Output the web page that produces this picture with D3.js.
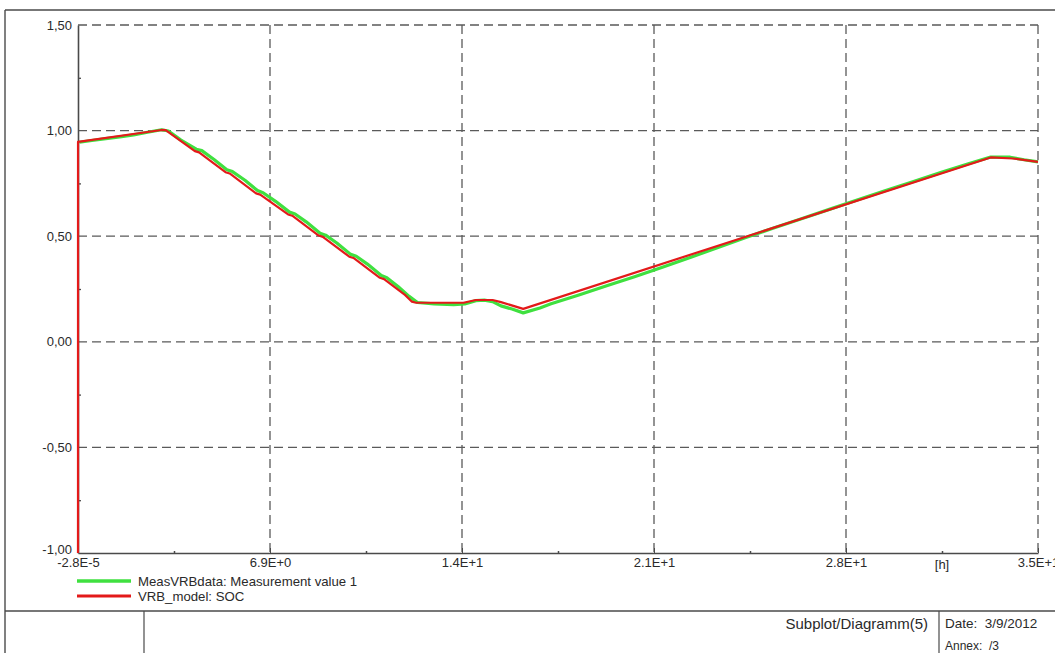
<!DOCTYPE html>
<html>
<head>
<meta charset="utf-8">
<script src="https://cdn.jsdelivr.net/npm/d3@7"></script>
<style>
  html, body { margin: 0; padding: 0; background: #fff; }
  svg { display: block; font-family: "Liberation Sans", Arial, sans-serif; }
</style>
</head>
<body>
<svg id="chart" width="1055" height="653"></svg>
<script>
// Measured state of charge (time in hours)
const measTime = [0.05, 0.5, 1.0, 1.5, 2.0, 2.5, 3.0, 3.25, 3.7, 4.25, 4.45, 4.9, 5.35, 5.55, 6.0, 6.45, 6.65,
  7.1, 7.6, 7.8, 8.2, 8.7, 8.9, 9.3, 9.8, 10.0, 10.4, 10.9, 11.1, 11.5, 11.9, 12.2, 12.8, 13.5, 13.9,
  14.3, 14.6, 14.9, 15.2, 15.6, 16.0, 16.6, 17.0, 18.0, 19.0, 20.0, 21.0, 22.0, 23.0, 24.0, 25.0, 26.0,
  27.0, 28.0, 29.0, 30.0, 31.0, 32.0, 32.8, 33.5, 34.0, 34.5];
const measSoc = [0.945, 0.953, 0.962, 0.970, 0.980, 0.992, 1.004, 0.998, 0.955, 0.912, 0.905, 0.862, 0.815, 0.806, 0.765, 0.716, 0.706,
  0.665, 0.614, 0.605, 0.568, 0.514, 0.505, 0.468, 0.414, 0.405, 0.368, 0.314, 0.303, 0.262, 0.215, 0.186, 0.180, 0.176, 0.179,
  0.195, 0.197, 0.190, 0.170, 0.155, 0.137, 0.160, 0.180, 0.222, 0.265, 0.308, 0.353, 0.399, 0.447, 0.494, 0.539, 0.583,
  0.627, 0.671, 0.715, 0.758, 0.801, 0.843, 0.875, 0.874, 0.862, 0.852];

// Model state of charge (time in hours)
const modelTime = [0, 0.001, 3.0, 3.15, 4.2, 4.35, 5.3, 5.45, 6.4, 6.55, 7.55, 7.7, 8.65, 8.8, 9.75, 9.9,
  10.85, 11.0, 11.75, 12.0, 12.15, 13.85, 14.3, 14.9, 15.2, 16.0, 32.8, 33.6, 34.5];
const modelSoc = [-1.0, 0.947, 1.003, 1.002, 0.903, 0.897, 0.803, 0.797, 0.703, 0.697, 0.603, 0.597, 0.503, 0.497, 0.403, 0.397,
  0.303, 0.297, 0.222, 0.190, 0.185, 0.185, 0.198, 0.198, 0.188, 0.156, 0.873, 0.868, 0.852];

const seriesNames = ["MeasVRBdata: Measurement value 1", "VRB_model: SOC"];
const xTickValues = [-2.8e-5, 6.9, 13.8, 20.7, 27.6, 34.5];
const xMinorValues = [3.45, 10.35, 17.25, 24.15, 31.05];
const xUnitLabel = "[h]";
const yTickValues = [-1.0, -0.5, 0.0, 0.5, 1.0, 1.5];
const yMinorValues = [-0.75, -0.25, 0.25, 0.75, 1.25];
const footerTitle = "Subplot/Diagramm(5)";
const footerDate = "Date:  3/9/2012";
const footerAnnex = "Annex:  /3";

// ---- styling and geometry ----
const colors = { meas: "#3fe03f", model: "#e31a1a", frame: "#4a4a4a", grid: "#5a5a5a", text: "#2a2a2a" };
const plot = { left: 78, right: 1038, top: 25, bottom: 553 };
const tickFont = 13;

const svg = d3.select("#chart");

const x = d3.scaleLinear().domain([xTickValues[0], xTickValues[xTickValues.length - 1]]).range([plot.left, plot.right]);
const y = d3.scaleLinear().domain([-1.0, 1.5]).range([plot.bottom, plot.top]);

const locale = d3.formatLocale({ decimal: ",", thousands: ".", grouping: [3], currency: ["", ""], minus: "-" });
const yFmt = locale.format(".2f");
const xFmt = v => v.toExponential(1).toUpperCase();

// outer frame and footer table
const frame = svg.append("g").attr("stroke", colors.frame).attr("fill", "none");
frame.append("line").attr("x1", 5).attr("x2", 1055).attr("y1", 10).attr("y2", 10).attr("stroke-width", 1.6);
frame.append("line").attr("x1", 5).attr("x2", 5).attr("y1", 10).attr("y2", 653).attr("stroke-width", 1.4);
frame.append("line").attr("x1", 5).attr("x2", 1055).attr("y1", 611).attr("y2", 611).attr("stroke-width", 1.4);
frame.append("line").attr("x1", 144).attr("x2", 144).attr("y1", 611).attr("y2", 653).attr("stroke-width", 1.2);
frame.append("line").attr("x1", 939).attr("x2", 939).attr("y1", 611).attr("y2", 653).attr("stroke-width", 1.2);

svg.append("text").attr("x", 928).attr("y", 629).attr("text-anchor", "end")
  .attr("font-size", 15).attr("fill", colors.text).text(footerTitle);
svg.append("text").attr("x", 945).attr("y", 628).attr("font-size", 13.5).attr("fill", colors.text)
  .attr("xml:space", "preserve").text(footerDate);
svg.append("text").attr("x", 945).attr("y", 650).attr("font-size", 12).attr("fill", colors.text)
  .attr("xml:space", "preserve").text(footerAnnex);

// dashed grid
const grid = svg.append("g").attr("stroke", colors.grid).attr("stroke-width", 1.3).attr("stroke-dasharray", "9,5");
grid.selectAll(".gx").data(xTickValues.slice(1)).join("line")
  .attr("x1", d => x(d)).attr("x2", d => x(d)).attr("y1", plot.top).attr("y2", plot.bottom);
grid.selectAll(".gy").data(yTickValues.slice(1)).join("line")
  .attr("x1", plot.left).attr("x2", plot.right).attr("y1", d => y(d)).attr("y2", d => y(d));

// axes
const xAxis = d3.axisBottom(x).tickValues(xTickValues).tickFormat(xFmt).tickSizeInner(-5).tickSizeOuter(0).tickPadding(5);
const gx = svg.append("g").attr("transform", `translate(0,${plot.bottom})`).call(xAxis);
gx.select(".domain").attr("stroke", colors.frame).attr("stroke-width", 1.6);
gx.selectAll(".tick line").attr("stroke", colors.frame);
gx.selectAll("text").attr("font-size", tickFont).attr("fill", colors.text).attr("font-family", "Liberation Sans, Arial, sans-serif");

const xMinor = d3.axisBottom(x).tickValues(xMinorValues).tickFormat("").tickSizeInner(-2).tickSizeOuter(0);
const gxm = svg.append("g").attr("transform", `translate(0,${plot.bottom})`).call(xMinor);
gxm.select(".domain").remove();
gxm.selectAll(".tick line").attr("stroke", colors.frame).attr("stroke-width", 1.5);

svg.append("text").attr("x", x(xMinorValues[4])).attr("y", 569).attr("text-anchor", "middle")
  .attr("font-size", tickFont).attr("fill", colors.text).text(xUnitLabel);

const yAxis = d3.axisLeft(y).tickValues(yTickValues).tickFormat(yFmt).tickSizeInner(0).tickSizeOuter(0).tickPadding(6);
const gy = svg.append("g").attr("transform", `translate(${plot.left},0)`).call(yAxis);
gy.select(".domain").attr("stroke", colors.frame).attr("stroke-width", 1.6);
gy.selectAll("text").attr("font-size", tickFont).attr("fill", colors.text).attr("font-family", "Liberation Sans, Arial, sans-serif");
gy.selectAll(".tick").filter(d => d === -1.0).select("text").attr("dy", "0.05em");

const yMinor = d3.axisLeft(y).tickValues(yMinorValues).tickFormat("").tickSizeInner(-3).tickSizeOuter(0);
const gym = svg.append("g").attr("transform", `translate(${plot.left},0)`).call(yMinor);
gym.select(".domain").remove();
gym.selectAll(".tick line").attr("stroke", colors.frame).attr("stroke-width", 1.3);

// series
const line = d3.line().x(d => x(d[0])).y(d => y(d[1]));
const measData = d3.zip(measTime, measSoc);
const modelData = d3.zip(modelTime, modelSoc);

svg.append("path").datum(measData).attr("d", line).attr("fill", "none")
  .attr("stroke", colors.meas).attr("stroke-width", 3.2).attr("stroke-linejoin", "round");
svg.append("path").datum(modelData).attr("d", line).attr("fill", "none")
  .attr("stroke", colors.model).attr("stroke-width", 2.2).attr("stroke-linejoin", "round");

// legend
const legend = svg.append("g");
const legendRows = [{ name: seriesNames[0], color: colors.meas, w: 3.4, yy: 581 }, { name: seriesNames[1], color: colors.model, w: 2.8, yy: 596 }];
legendRows.forEach(r => {
  legend.append("line").attr("x1", 77).attr("x2", 131).attr("y1", r.yy).attr("y2", r.yy)
    .attr("stroke", r.color).attr("stroke-width", r.w);
  legend.append("text").attr("x", 138).attr("y", r.yy).attr("dy", "0.35em")
    .attr("font-size", 13.2).attr("fill", colors.text).text(r.name);
});
</script>
</body>
</html>
